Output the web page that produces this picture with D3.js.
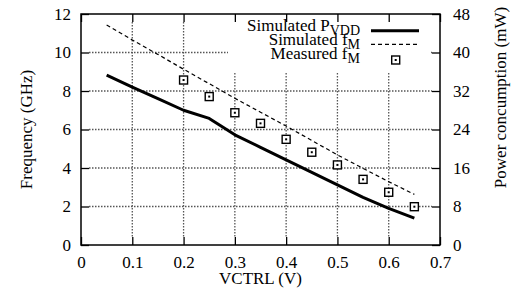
<!DOCTYPE html>
<html>
<head>
<meta charset="utf-8">
<script src="https://cdn.jsdelivr.net/npm/d3@7"></script>
<style>
	body { margin: 0; background: #fff; }
	svg text { font-family: "Liberation Serif", "Times New Roman", "DejaVu Serif", serif; fill: #000; }
</style>
</head>
<body>
<div id="chart"></div>
<script>
// simulated curves, sampled every 0.05 V
const vctrl = [0.05, 0.1, 0.15, 0.2, 0.25, 0.3, 0.35, 0.4, 0.45, 0.5, 0.55, 0.6, 0.65]
const simPower = [35.3, 32.8, 30.4, 28.0, 26.3, 22.9, 20.3, 17.7, 15.1, 12.5, 9.9, 7.6, 5.6] // mW
const simFreq = [11.43, 10.65, 9.9, 9.13, 8.38, 7.62, 6.9, 6.18, 5.43, 4.68, 3.98, 3.29, 2.63] // GHz

// measured points
const measV = [0.2, 0.25, 0.3, 0.35, 0.4, 0.45, 0.5, 0.55, 0.6, 0.65]
const measFreq = [8.57, 7.71, 6.87, 6.32, 5.49, 4.82, 4.16, 3.41, 2.74, 1.99]

const xTicks = [0, 0.1, 0.2, 0.3, 0.4, 0.5, 0.6, 0.7]
const yTicks = [0, 2, 4, 6, 8, 10, 12]
const y2Ticks = [0, 8, 16, 24, 32, 40, 48]

var width = 514
var height = 300
var pl = 81, pr = 440, pt = 14, pb = 245
var fs = 17
var serif = '"Liberation Serif", "Times New Roman", "DejaVu Serif", serif'

var x = d3.scaleLinear().domain([0, 0.7]).range([pl, pr])
var y = d3.scaleLinear().domain([0, 12]).range([pb, pt])
var y2 = d3.scaleLinear().domain([0, 48]).range([pb, pt])

var svg = d3.select('#chart')
	.append('svg')
	.attr('width', width)
	.attr('height', height)

// dotted grid
var grid = svg.append('g')
	.attr('fill', 'none')
	.attr('stroke', '#555')
	.attr('stroke-width', 1.3)
	.attr('stroke-dasharray', '1.5 1.5')
yTicks.slice(1, -1).forEach(d => {
	grid.append('line')
		.attr('x1', pl + 8).attr('x2', pr - 8)
		.attr('y1', y(d)).attr('y2', y(d))
})
xTicks.slice(1, -1).forEach(d => {
	grid.append('line')
		.attr('x1', x(d)).attr('x2', x(d))
		.attr('y1', pt + 8).attr('y2', pb - 8)
})

// opaque key box
svg.append('rect')
	.attr('x', 228).attr('y', pt + 1)
	.attr('width', 430 - 228).attr('height', 72 - pt)
	.attr('fill', '#fff')

// curves
var lineGen = d3.line()
svg.append('path')
	.attr('d', lineGen(vctrl.map((v, i) => [x(v), y2(simPower[i])])))
	.attr('fill', 'none')
	.attr('stroke', '#000')
	.attr('stroke-width', 3)
	.attr('stroke-linejoin', 'round')
svg.append('path')
	.attr('d', lineGen(vctrl.map((v, i) => [x(v), y(simFreq[i])])))
	.attr('fill', 'none')
	.attr('stroke', '#000')
	.attr('stroke-width', 1.2)
	.attr('stroke-dasharray', '4,3')

function marker(g, cx, cy) {
	g.append('rect')
		.attr('x', cx - 4).attr('y', cy - 4)
		.attr('width', 8).attr('height', 8)
		.attr('fill', '#fff')
		.attr('stroke', '#000')
		.attr('stroke-width', 1.4)
	g.append('rect')
		.attr('x', cx - 1).attr('y', cy - 1)
		.attr('width', 2).attr('height', 2)
		.attr('fill', '#000')
}
var pts = svg.append('g')
measV.forEach((v, i) => marker(pts, x(v), y(measFreq[i])))

// axes with inward ticks
function style(g) {
	g.attr('font-family', serif).attr('font-size', fs)
	g.select('.domain').remove()
	g.selectAll('.tick line').attr('stroke', '#000').attr('stroke-width', 1.3)
}
svg.append('g')
	.attr('transform', 'translate(0,' + pb + ')')
	.call(d3.axisBottom(x).tickValues(xTicks).tickSize(-8).tickPadding(11).tickFormat(d3.format('~g')))
	.call(style)
svg.append('g')
	.attr('transform', 'translate(0,' + pt + ')')
	.call(d3.axisTop(x).tickValues(xTicks).tickSize(-8).tickFormat(''))
	.call(style)
svg.append('g')
	.attr('transform', 'translate(' + pl + ',0)')
	.call(d3.axisLeft(y).tickValues(yTicks).tickSize(-8).tickPadding(10))
	.call(style)
svg.append('g')
	.attr('transform', 'translate(' + pr + ',0)')
	.call(d3.axisRight(y2).tickValues(y2Ticks).tickSize(-8).tickPadding(13))
	.call(style)

// border
svg.append('rect')
	.attr('x', pl).attr('y', pt)
	.attr('width', pr - pl).attr('height', pb - pt)
	.attr('fill', 'none')
	.attr('stroke', '#000')
	.attr('stroke-width', 1.5)

// axis titles
svg.append('text')
	.attr('x', (pl + pr) / 2).attr('y', 284)
	.attr('text-anchor', 'middle')
	.attr('font-size', fs)
	.text('VCTRL (V)')
svg.append('text')
	.attr('transform', 'translate(32,' + (pt + pb) / 2 + ') rotate(-90)')
	.attr('text-anchor', 'middle')
	.attr('font-size', fs)
	.text('Frequency (GHz)')
svg.append('text')
	.attr('transform', 'translate(506,97.5) rotate(-90)')
	.attr('text-anchor', 'middle')
	.attr('font-size', fs)
	.text('Power concumption (mW)')

// key
var keyX = 360
var keyRows = [
	{ main: 'Simulated P', sub: 'VDD', y: 31 },
	{ main: 'Simulated f', sub: 'M', y: 45 },
	{ main: 'Measured f', sub: 'M', y: 59 }
]
keyRows.forEach(r => {
	var t = svg.append('text')
		.attr('x', keyX).attr('y', r.y)
		.attr('text-anchor', 'end')
		.attr('font-size', fs)
	t.append('tspan').text(r.main)
	t.append('tspan').attr('dy', 4).attr('font-size', 14).text(r.sub)
})
svg.append('line')
	.attr('x1', 371).attr('x2', 419).attr('y1', 30.7).attr('y2', 30.7)
	.attr('stroke', '#000').attr('stroke-width', 3)
svg.append('line')
	.attr('x1', 371).attr('x2', 419).attr('y1', 44.3).attr('y2', 44.3)
	.attr('stroke', '#000').attr('stroke-width', 1.2)
	.attr('stroke-dasharray', '4,3')
marker(svg.append('g'), 395.7, 60)
</script>
</body>
</html>
